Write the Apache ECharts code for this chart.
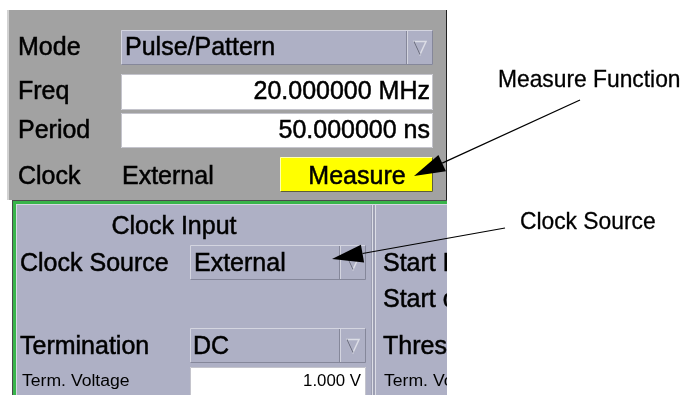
<!DOCTYPE html>
<html>
<head>
<meta charset="utf-8">
<script src="https://cdn.jsdelivr.net/npm/echarts@6/dist/echarts.min.js"></script>
<style>
  html, body { margin: 0; padding: 0; background: #ffffff; }
  #main { width: 688px; height: 395px; }
</style>
</head>
<body>
<div id="main"></div>
<script>
// 上半部分：模式 / 频率 / 周期 / 时钟
const topLabels = ["Mode", "Freq", "Period", "Clock"];
const topValues = ["Pulse/Pattern", "20.000000 MHz", "50.000000 ns", "External"];
const buttonLabel = "Measure";
// 下半部分：时钟输入
const sectionTitle = "Clock Input";
const inputLabels = ["Clock Source", "", "Termination", "Term. Voltage"];
const inputValues = ["External", "", "DC", "1.000 V"];
// 右侧被截断的面板
const sideLabels = ["Start Level", "Start of", "Threshold", "Term. Voltage"];
// 标注
const calloutLabels = ["Measure Function", "Clock Source"];

const FONT = '"Liberation Sans", Arial, sans-serif';
const LAV = "#aeb0c5";

function rect(x, y, w, h, fill, stroke) {
  return {
    type: "rect",
    shape: { x: x, y: y, width: w, height: h },
    style: { fill: fill, stroke: stroke || null, lineWidth: stroke ? 1 : 0 },
  };
}
function line(x1, y1, x2, y2, color, w) {
  return {
    type: "line",
    shape: { x1: x1, y1: y1, x2: x2, y2: y2 },
    style: { stroke: color, lineWidth: w || 1 },
  };
}
function txt(x, y, s, size, align, sx, heavy) {
  return {
    type: "text",
    x: x,
    y: y,
    scaleX: sx || 1,
    style: {
      text: s,
      fill: "#000000",
      font: size + "px " + FONT,
      textAlign: align || "left",
      textVerticalAlign: "middle",
      stroke: heavy ? "#000000" : null,
      lineWidth: heavy || 0,
    },
  };
}
// 凸起的 3D 边框（左上亮，右下暗）
function bevel(x, y, w, h, fill, light, dark) {
  return [
    rect(x, y, w, h, fill),
    line(x + 0.5, y + 0.5, x + w - 0.5, y + 0.5, light),
    line(x + 0.5, y + 0.5, x + 0.5, y + h - 0.5, light),
    line(x + 0.5, y + h - 0.5, x + w - 0.5, y + h - 0.5, dark),
    line(x + w - 0.5, y + 0.5, x + w - 0.5, y + h - 0.5, dark),
  ];
}
function dropdown(x, y, w, h) {
  const bx = x + w - 26;
  const cx = bx + 13, cy = y + h / 2;
  return bevel(x, y, w, h, LAV, "#d4d5e0", "#85879a").concat([
    line(bx - 0.5, y + 1, bx - 0.5, y + h - 1, "#85879a"),
    line(bx + 0.5, y + 1, bx + 0.5, y + h - 1, "#d4d5e0"),
    {
      type: "polygon",
      shape: { points: [[cx - 6, cy - 6], [cx + 6, cy - 6], [cx, cy + 7]] },
      style: { fill: null, stroke: "#dcdde6", lineWidth: 1.5 },
    },
    line(cx - 6, cy - 6, cx, cy + 7, "#6e7084", 1.2),
  ]);
}
function field(x, y, w, h) {
  return [rect(x, y, w, h, "#ffffff"), rect(x + 0.5, y + 0.5, w - 1, h - 1, null, "#c4c4cc")];
}
function arrow(from, tip) {
  const dx = from[0] - tip[0], dy = from[1] - tip[1];
  const len = Math.sqrt(dx * dx + dy * dy);
  const ux = dx / len, uy = dy / len;
  const bx = tip[0] + ux * 31, by = tip[1] + uy * 31;
  const px = -uy * 9, py = ux * 9;
  return [
    line(from[0], from[1], bx, by, "#000000", 1.2),
    {
      type: "polygon",
      shape: { points: [tip, [bx + px, by + py], [bx - px, by - py]] },
      style: { fill: "#000000" },
    },
  ];
}

const BIG = 25, HEAVY = 0.5;
let els = [];
// 上面板
els.push(rect(7, 10, 440, 190, "#a2a2a2"));
els.push(rect(7, 10, 2, 190, "#d2d2d2"));
els.push(line(446.5, 10, 446.5, 200, "#202020"));
els = els.concat(dropdown(121, 30, 312, 35));
els = els.concat(field(121, 74, 312, 36));
els = els.concat(field(121, 113, 312, 35));
els = els.concat(bevel(280, 157, 153, 35, "#ffff00", "#ffffb0", "#5c5c3c"));

const topY = [48, 92, 131, 177];
topLabels.forEach(function (s, i) { els.push(txt(18, topY[i], s, BIG, "left", 1, HEAVY)); });
els.push(txt(125, topY[0], topValues[0], BIG, "left", 1, HEAVY));
els.push(txt(430, topY[1], topValues[1], BIG, "right", 1, HEAVY));
els.push(txt(430, topY[2], topValues[2], BIG, "right", 1, HEAVY));
els.push(txt(122, topY[3], topValues[3], BIG, "left", 1, HEAVY));
els.push(txt(357, topY[3], buttonLabel, BIG, "center", 1, HEAVY));

// 下面板（绿色边框）
els.push(rect(12, 200, 436, 195, "#4a4a4a"));
els.push(rect(13, 201, 435, 194, "#38b44a"));
els.push(rect(16, 204, 432, 191, "#d6d7e2"));
els.push(rect(17, 205, 431, 190, LAV));
els.push(rect(371, 205, 5, 190, "#9c9eb2"));
els.push(line(372.5, 205, 372.5, 395, "#dcdde6"));
els.push(line(375.5, 205, 375.5, 395, "#dcdde6"));

els.push(txt(174, 227, sectionTitle, BIG, "center", 1, HEAVY));
const lowY = [264, 300, 347, 382];
inputLabels.forEach(function (s, i) {
  if (!s) return;
  if (i === 3) els.push(txt(22, lowY[i], s, 16, "left", 1.1));
  else els.push(txt(20, lowY[i], s, BIG, "left", 1, HEAVY));
});
els = els.concat(dropdown(190, 245, 176, 35));
els = els.concat(dropdown(190, 328, 176, 35));
els = els.concat(field(190, 367, 176, 32));
els.push(txt(194, lowY[0], inputValues[0], BIG, "left", 1, HEAVY));
els.push(txt(193, lowY[2], inputValues[2], BIG, "left", 1, HEAVY));
els.push(txt(361, lowY[3], inputValues[3], 16, "right", 1.05));

sideLabels.forEach(function (s, i) {
  if (i === 3) els.push(txt(384, lowY[i], s, 16, "left", 1.1));
  else els.push(txt(383, lowY[i], s, BIG, "left", 1, HEAVY));
});

// 右侧截断
els.push(rect(447, 0, 241, 395, "#ffffff"));

// 标注
els = els.concat(arrow([580, 100], [414, 176]));
els = els.concat(arrow([505, 228], [332, 259]));
els.push(txt(498, 80, calloutLabels[0], 24, "left", 0.95, 0.3));
els.push(txt(520, 222, calloutLabels[1], 24, "left", 0.95, 0.3));

const chart = echarts.init(document.getElementById("main"));
chart.setOption({
  animation: false,
  graphic: { elements: els },
});
</script>
</body>
</html>
